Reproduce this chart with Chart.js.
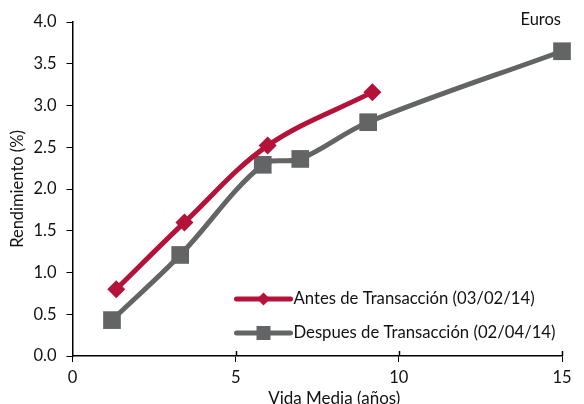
<!DOCTYPE html>
<html>
<head>
<meta charset="utf-8">
<script src="https://cdn.jsdelivr.net/npm/chart.js@4/dist/chart.umd.min.js"></script>
<style>
  html, body { margin:0; padding:0; background:#fff; }
  #c { display:block; }
</style>
</head>
<body>
<canvas id="c" width="584" height="404"></canvas>
<script>
// vida media (años) y rendimiento (%)
const antesX = [1.34, 3.43, 5.98, 9.19];
const antesY = [0.80, 1.60, 2.52, 3.16];
const despuesX = [1.21, 3.30, 5.83, 6.98, 9.06, 15.0];
const despuesY = [0.43, 1.21, 2.29, 2.36, 2.80, 3.65];
const xTicks = [0, 5, 10, 15];
const yTicks = [0, 0.5, 1, 1.5, 2, 2.5, 3, 3.5, 4];
const seriesNames = ['Antes de Transacción (03/02/14)', 'Despues de Transacción (02/04/14)'];
const unitLabel = 'Euros';
const xTitle = 'Vida Media (años)';

const ROJO = '#b5123a', GRIS = '#636466';
const FONT = 'Lato, "Open Sans", sans-serif';
Chart.defaults.font.family = FONT;
Chart.defaults.font.size = 16.5;
Chart.defaults.color = '#111';

const pts = (xs, ys) => xs.map((x, i) => ({ x, y: ys[i] }));

const legendaDentro = {
  id: 'legendaDentro',
  afterDraw(chart) {
    const ctx = chart.ctx, a = chart.chartArea, sx = chart.scales.x;
    ctx.save();
    // marcas del eje x que cruzan hacia dentro
    ctx.strokeStyle = '#000'; ctx.lineWidth = 1.5;
    xTicks.slice(1).forEach(v => {
      const px = Math.round(sx.getPixelForValue(v)) + 0.5;
      ctx.beginPath(); ctx.moveTo(px, a.bottom); ctx.lineTo(px, a.bottom - 5); ctx.stroke();
    });
    const rows = [
      { name: seriesNames[0], color: ROJO, style: 'diamond' },
      { name: seriesNames[1], color: GRIS, style: 'square' }
    ];
    rows.forEach((r, i) => {
      const y = a.bottom - 57 + i * 34, x0 = a.left + 164, x1 = x0 + 54, xm = (x0 + x1) / 2;
      ctx.strokeStyle = r.color; ctx.lineWidth = 5; ctx.lineCap = 'round';
      ctx.beginPath(); ctx.moveTo(x0, y); ctx.lineTo(x1, y); ctx.stroke();
      ctx.fillStyle = r.color;
      if (r.style === 'diamond') {
        ctx.beginPath(); ctx.moveTo(xm, y - 6.5); ctx.lineTo(xm + 6.5, y); ctx.lineTo(xm, y + 6.5); ctx.lineTo(xm - 6.5, y); ctx.closePath(); ctx.fill();
      } else {
        ctx.fillRect(xm - 7, y - 7, 14, 14);
      }
      ctx.fillStyle = '#111'; ctx.font = '16.7px ' + FONT; ctx.textBaseline = 'middle'; ctx.textAlign = 'left';
      ctx.fillText(r.name, x1 + 3, y);
    });
    ctx.font = '16.5px ' + FONT; ctx.textAlign = 'right'; ctx.textBaseline = 'middle';
    ctx.fillText(unitLabel, a.right - 1, 20);
    // título del eje x, algo desplazado a la derecha como en el original
    ctx.font = '17px ' + FONT; ctx.textAlign = 'center'; ctx.textBaseline = 'alphabetic';
    ctx.fillText(xTitle, (a.left + a.right) / 2 + 17, 404);
    ctx.restore();
  }
};

new Chart(document.getElementById('c'), {
  type: 'line',
  data: {
    datasets: [
      { label: seriesNames[0], data: pts(antesX, antesY), borderColor: ROJO, backgroundColor: ROJO, borderWidth: 5,
        pointStyle: 'rectRot', pointRadius: 9, pointBorderWidth: 0, tension: 0.35, clip: false },
      { label: seriesNames[1], data: pts(despuesX, despuesY), borderColor: GRIS, backgroundColor: GRIS, borderWidth: 5,
        pointStyle: 'rect', pointRadius: 12.5, pointBorderWidth: 0, tension: 0.35, clip: false }
    ]
  },
  options: {
    responsive: false,
    animation: false,
    layout: { padding: { top: 22, right: 22, left: 0, bottom: 0 } },
    plugins: { legend: { display: false }, tooltip: { enabled: false } },
    scales: {
      x: {
        type: 'linear', min: 0, max: 15,
        afterBuildTicks: s => { s.ticks = xTicks.map(v => ({ value: v })); },
        ticks: { padding: 6, maxRotation: 0 },
        grid: { drawOnChartArea: false, tickLength: 6, color: '#000' },
        border: { color: '#000', width: 1.5 },
        title: { display: false },
        afterFit: s => { s.height = 48; }
      },
      y: {
        min: 0, max: 4,
        afterBuildTicks: s => { s.ticks = yTicks.map(v => ({ value: v })); },
        ticks: { callback: v => v.toFixed(1), padding: 10 },
        grid: { drawOnChartArea: false, tickLength: 6, color: '#000' },
        border: { color: '#000', width: 1.5 },
        title: { display: true, text: 'Rendimiento (%)', padding: { top: 8, bottom: 0 } },
        afterFit: s => { s.width = 72.5; }
      }
    }
  },
  plugins: [legendaDentro]
});
</script>
</body>
</html>
